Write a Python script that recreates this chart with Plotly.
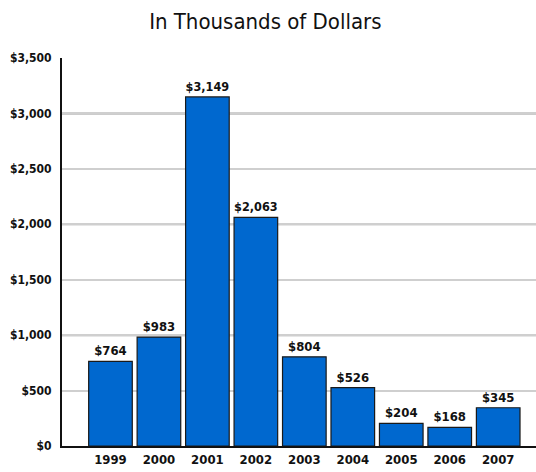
import plotly.graph_objects as go

years = ["1999", "2000", "2001", "2002", "2003", "2004", "2005", "2006", "2007"]
values = [764, 983, 3149, 2063, 804, 526, 204, 168, 345]
y_ticks = [0, 500, 1000, 1500, 2000, 2500, 3000, 3500]
y_tick_labels = ["$0", "$500", "$1,000", "$1,500", "$2,000", "$2,500", "$3,000", "$3,500"]
major_grid = [1000, 2000, 3000]

narrow = "Liberation Sans Narrow, DejaVu Sans Condensed, Arial Narrow, sans-serif"
positions = list(range(len(years)))

fig = go.Figure(
    go.Bar(
        x=positions,
        y=values,
        width=0.9,
        marker=dict(color="#0068CF", line=dict(color="#1a1a1a", width=1.2)),
        text=[f"${v:,}" for v in values],
        textposition="outside",
        textfont=dict(family=narrow, size=13, color="#111111", weight="bold"),
        cliponaxis=False,
    )
)

# darker gridlines at each thousand
for g in major_grid:
    fig.add_shape(
        type="line", xref="paper", x0=0, x1=1, yref="y", y0=g, y1=g,
        line=dict(color="#9a9a9a", width=2), layer="below",
    )

fig.update_layout(
    width=536,
    height=472,
    margin=dict(l=62, r=0, t=58, b=26),
    paper_bgcolor="white",
    plot_bgcolor="white",
    showlegend=False,
    title=dict(
        text="In Thousands of Dollars",
        x=0.495,
        xanchor="center",
        y=0.955,
        yanchor="middle",
        font=dict(family=narrow, size=22, color="#111111"),
    ),
    xaxis=dict(
        range=[-1.0, 8.78],
        tickvals=positions,
        ticktext=years,
        showgrid=False,
        showline=True,
        linecolor="#111111",
        linewidth=2,
        ticks="",
        tickfont=dict(family=narrow, size=13, color="#111111", weight="bold"),
        zeroline=False,
    ),
    yaxis=dict(
        range=[0, 3500],
        tickvals=y_ticks,
        ticktext=y_tick_labels,
        showgrid=True,
        gridcolor="#cfcfcf",
        gridwidth=1.5,
        showline=True,
        linecolor="#111111",
        linewidth=2,
        ticks="",
        ticklabelstandoff=6,
        tickfont=dict(family=narrow, size=12, color="#111111", weight="bold"),
        zeroline=False,
    ),
    bargap=0.1,
)

fig.write_html("out.html")
